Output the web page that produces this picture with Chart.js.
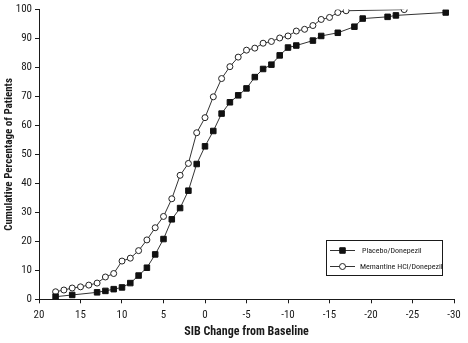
<!DOCTYPE html>
<html>
<head>
<meta charset="utf-8">
<script src="https://cdn.jsdelivr.net/npm/chart.js@4.4.1/dist/chart.umd.min.js"></script>
<style>
  html, body { margin: 0; padding: 0; background: #fff; }
  #c { display: block; }
</style>
</head>
<body>
<canvas id="c" width="468" height="343"></canvas>
<script>
// SIB change from baseline (positive = improvement, axis runs 20 → -30)
const placeboX = [18, 16, 13, 12, 11, 10, 9, 8, 7, 6, 5, 4, 3, 2, 1, 0, -1, -2, -3, -4, -5, -6, -7, -8, -9, -10, -11, -13, -14, -16, -18, -19, -22, -23, -29];
const placeboY = [0.9, 1.5, 2.4, 2.9, 3.5, 4.1, 5.6, 8.2, 10.9, 15.5, 20.8, 27.6, 31.5, 37.5, 46.7, 52.8, 58.1, 64.1, 68.0, 70.4, 72.8, 76.7, 79.5, 81.0, 84.2, 86.9, 87.6, 89.3, 90.9, 92.0, 94.1, 96.9, 97.5, 98.0, 99.0];

const memantineX = [18, 17, 16, 15, 14, 13, 12, 11, 10, 9, 8, 7, 6, 5, 4, 3, 2, 1, 0, -1, -2, -3, -4, -5, -6, -7, -8, -9, -10, -11, -12, -13, -14, -15, -16, -17, -24];
const memantineY = [2.6, 3.2, 3.9, 4.3, 4.9, 5.6, 7.7, 8.9, 13.2, 14.2, 16.8, 20.5, 24.7, 28.6, 34.7, 42.8, 46.9, 57.5, 62.7, 69.9, 76.2, 80.3, 83.6, 86.0, 86.7, 88.4, 89.0, 90.2, 90.9, 92.6, 93.2, 94.5, 96.6, 97.3, 99.0, 99.6, 100];

const seriesLabels = ['Placebo/Donepezil', 'Memantine HCl/Donepezil'];
const xTitle = 'SIB Change from Baseline';
const yTitle = 'Cumulative Percentage of Patients';

const NARROW = '"Roboto Condensed", "Liberation Sans Narrow", Arial, sans-serif';
const INK = '#1a1a1a';

const toPoints = (xs, ys) => xs.map((x, i) => ({ x, y: ys[i] }));

// Boxed legend drawn inside the lower-right of the plot area
const boxLegend = {
  id: 'boxLegend',
  afterDraw(chart) {
    const { ctx } = chart;
    const xs = chart.scales.x, ys = chart.scales.y;
    const left = Math.round(xs.getPixelForValue(-14.6));
    const right = Math.round(xs.getPixelForValue(-28.5));
    const top = Math.round(ys.getPixelForValue(20.6));
    const bottom = Math.round(ys.getPixelForValue(8.3));
    ctx.save();
    ctx.strokeStyle = INK;
    ctx.lineWidth = 1;
    ctx.strokeRect(left + 0.5, top + 0.5, right - left, bottom - top);
    const rows = [top + 10.5, top + 26.5];
    chart.data.datasets.forEach((ds, i) => {
      const y = rows[i];
      const cx = left + 16.5;
      ctx.strokeStyle = ds.borderColor;
      ctx.lineWidth = 1;
      ctx.beginPath();
      ctx.moveTo(left + 4, y);
      ctx.lineTo(left + 29, y);
      ctx.stroke();
      ctx.fillStyle = ds.pointBackgroundColor;
      ctx.strokeStyle = ds.pointBorderColor;
      const r = ds.pointRadius;
      ctx.beginPath();
      if (ds.pointStyle === 'rect') {
        const s = Math.SQRT1_2 * r;
        ctx.rect(cx - s, y - s, 2 * s, 2 * s);
      } else {
        ctx.arc(cx, y, r, 0, Math.PI * 2);
      }
      ctx.fill();
      ctx.stroke();
      ctx.fillStyle = INK;
      ctx.font = '8px ' + NARROW;
      ctx.textBaseline = 'middle';
      ctx.textAlign = 'left';
      ctx.fillText(ds.label, left + (i === 0 ? 36 : 34), y);
    });
    ctx.restore();
  }
};

new Chart(document.getElementById('c'), {
  type: 'line',
  data: {
    datasets: [
      {
        label: seriesLabels[0],
        data: toPoints(placeboX, placeboY),
        borderColor: '#333',
        borderWidth: 1,
        pointStyle: 'rect',
        pointRadius: 3.9,
        pointBackgroundColor: '#111',
        pointBorderColor: '#111',
        pointBorderWidth: 1,
        tension: 0
      },
      {
        label: seriesLabels[1],
        data: toPoints(memantineX, memantineY),
        borderColor: '#333',
        borderWidth: 1,
        pointStyle: 'circle',
        pointRadius: 3,
        pointBackgroundColor: '#fff',
        pointBorderColor: '#222',
        pointBorderWidth: 1,
        tension: 0
      }
    ]
  },
  options: {
    responsive: false,
    animation: false,
    devicePixelRatio: 1,
    layout: { padding: { left: 0, right: 14, top: 8, bottom: 0 } },
    plugins: {
      legend: { display: false },
      tooltip: { enabled: false }
    },
    scales: {
      x: {
        type: 'linear',
        reverse: true,
        min: -30,
        max: 20,
        afterFit(scale) { scale.height = 43.7; },
        border: { display: true, color: INK, width: 1 },
        grid: { drawOnChartArea: false, drawTicks: true, tickLength: 4, color: INK },
        ticks: {
          stepSize: 5,
          padding: 5,
          color: INK,
          font: { family: NARROW, size: 11 }
        },
        title: {
          display: true,
          text: xTitle,
          color: INK,
          font: { family: NARROW, size: 12, weight: 'bold' },
          padding: { top: 0, bottom: 4 }
        }
      },
      y: {
        type: 'linear',
        min: 0,
        max: 100,
        afterFit(scale) { scale.width = 39; },
        border: { display: true, color: INK, width: 1 },
        grid: { drawOnChartArea: false, drawTicks: true, tickLength: 4, color: INK },
        ticks: {
          stepSize: 10,
          padding: 3,
          color: INK,
          font: { family: NARROW, size: 11 }
        },
        title: {
          display: true,
          text: yTitle,
          color: INK,
          font: { family: NARROW, size: 11, weight: 'bold' },
          padding: { top: 3, bottom: 0 }
        }
      }
    }
  },
  plugins: [boxLegend]
});
</script>
</body>
</html>
